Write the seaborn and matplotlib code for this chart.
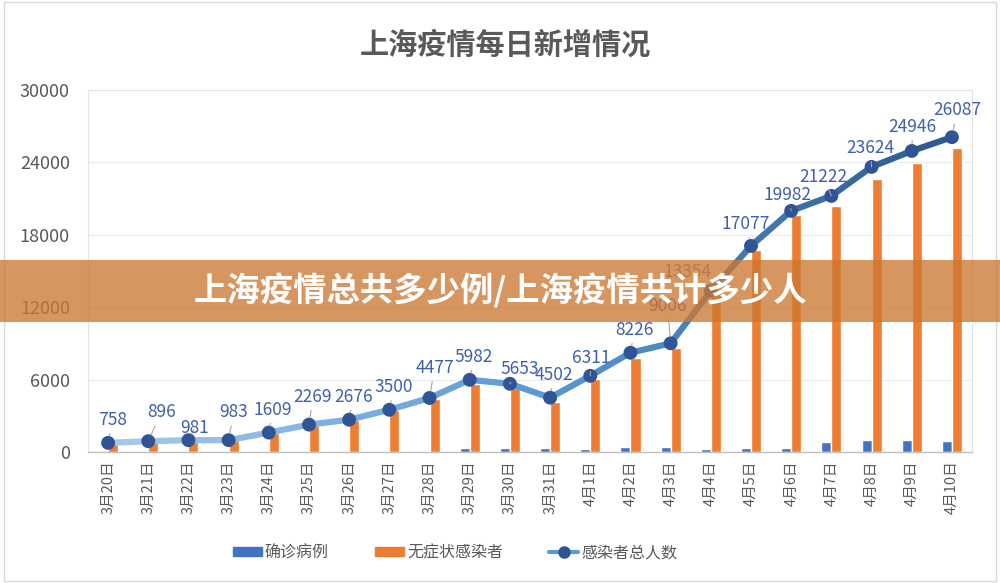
import numpy as np
import pandas as pd
import matplotlib
matplotlib.use('Agg')
import matplotlib.pyplot as plt
import seaborn as sns
from matplotlib.collections import LineCollection
from matplotlib.colors import LinearSegmentedColormap
from matplotlib.patches import Patch, Rectangle
from matplotlib.lines import Line2D

sns.set_theme(style='white')
plt.rcParams['font.family'] = ['Noto Sans CJK SC', 'DejaVu Sans']

# ---- data ----
dates = ['3月20日', '3月21日', '3月22日', '3月23日', '3月24日', '3月25日',
         '3月26日', '3月27日', '3月28日', '3月29日', '3月30日', '3月31日',
         '4月1日', '4月2日', '4月3日', '4月4日', '4月5日', '4月6日',
         '4月7日', '4月8日', '4月9日', '4月10日']
confirmed = [24, 31, 4, 4, 29, 38, 45, 50, 96, 326, 355, 358,
             260, 438, 425, 268, 311, 322, 824, 1015, 1006, 914]
asymptomatic = [734, 865, 977, 979, 1580, 2231, 2631, 3450, 4381, 5656, 5298, 4144,
                6051, 7788, 8581, 13086, 16766, 19660, 20398, 22609, 23937, 25173]
total = [758, 896, 981, 983, 1609, 2269, 2676, 3500, 4477, 5982, 5653, 4502,
         6311, 8226, 9006, 13354, 17077, 19982, 21222, 23624, 24946, 26087]
series_names = ['确诊病例', '无症状感染者', '感染者总人数']
y_ticks = [0, 6000, 12000, 18000, 24000, 30000]

BLUE = '#4472C4'
ORANGE = '#ED7D31'
DARK = '#2F5597'
LABEL = '#3F5FAF'
GRAY_TXT = '#595959'

df = pd.DataFrame({'date': dates * 2,
                   'value': confirmed + asymptomatic,
                   'type': [series_names[0]] * len(dates) + [series_names[1]] * len(dates)})

fig = plt.figure(figsize=(10, 5.83), dpi=100)
ax = fig.add_axes([0.088, 0.2247, 0.884, 0.621])

sns.barplot(data=df, x='date', y='value', hue='type', order=dates,
            hue_order=series_names[:2], palette=[BLUE, ORANGE],
            width=0.5, saturation=1, errorbar=None, ax=ax, legend=False)

# gradient line for totals
xs = np.arange(len(dates))
pts = np.column_stack([xs, total]).reshape(-1, 1, 2)
segs = np.concatenate([pts[:-1], pts[1:]], axis=1)
cmap = LinearSegmentedColormap.from_list('bl', ['#A5C8E8', '#5B9BD5', '#2E5C92'])
lc = LineCollection(segs, colors=cmap(np.linspace(0, 1, len(segs))),
                    linewidths=4.5, capstyle='round', joinstyle='round', zorder=4)
ax.add_collection(lc)
sns.scatterplot(x=xs, y=total, color=DARK, s=100, edgecolor='none', zorder=5, ax=ax)

# value labels
offsets = {i: (4, 23) for i in range(len(total))}
offsets.update({1: (13, 29), 2: (6, 12), 3: (5, 28), 5: (4, 28), 8: (5, 30),
                10: (10, 15), 12: (1, 18), 14: (-3, 37), 15: (-23, 19),
                16: (-5, 22), 17: (-4, 16), 18: (-8, 19), 19: (-1, 19), 20: (1, 24), 21: (5, 27)})
for i, v in enumerate(total):
    dx, dy = offsets[i]
    col = '#7F7F7F' if i == 15 else LABEL
    ax.annotate(f'{v}', xy=(i, v), xytext=(dx, dy), textcoords='offset pixels',
                ha='center', va='center', fontsize=12.5, color=col, zorder=6,
                arrowprops=dict(arrowstyle='-', color='#A6A6A6', lw=0.8,
                                shrinkA=1, shrinkB=5))

# axes styling
ax.set_xlim(-0.5, len(dates) - 0.5)
ax.set_ylim(0, 30000)
ax.set_yticks(y_ticks)
ax.set_yticklabels([str(t) for t in y_ticks], fontsize=13, color=GRAY_TXT)
ax.tick_params(axis='y', length=0, pad=13)
ax.set_xticks(xs)
ax.set_xticklabels(dates, rotation=90, fontsize=10.5, color=GRAY_TXT)
ax.tick_params(axis='x', which='major', length=0, pad=6)
ax.set_xticks(np.arange(-0.5, len(dates), 1), minor=True)
ax.tick_params(axis='x', which='minor', length=6, color='#BFBFBF', width=1)
ax.set_xlabel('')
ax.set_ylabel('')
ax.grid(axis='y', color='#EBEBEB', lw=0.8)
ax.set_axisbelow(True)
for s in ['top', 'right', 'left']:
    ax.spines[s].set_color('#E3E3E3')
    ax.spines[s].set_linewidth(0.8)
ax.spines['bottom'].set_color('#BFBFBF')
ax.spines['bottom'].set_linewidth(1)

fig.text(0.505, 1 - 45 / 583, '上海疫情每日新增情况', ha='center', va='center',
         fontsize=21, fontweight='bold', color=GRAY_TXT)

handles = [Patch(color=BLUE), Patch(color=ORANGE),
           Line2D([0], [0], color='#5B9BD5', lw=3, marker='o', markersize=8,
                  markerfacecolor=DARK, markeredgecolor=DARK)]
fig.legend(handles, series_names, loc='center', bbox_to_anchor=(0.455, 1 - 553 / 583),
           ncol=3, frameon=False, fontsize=11.5, handlelength=1.8, handleheight=0.5,
           columnspacing=2.9, handletextpad=0.2, labelcolor=GRAY_TXT)

# outer border
fig.patches.append(Rectangle((0.004, 0.004), 0.992, 0.992, transform=fig.transFigure,
                             fill=False, edgecolor='#D9D9D9', lw=1))

# banner overlay
fig.patches.append(Rectangle((0, 1 - 322 / 583), 1, 62 / 583, transform=fig.transFigure,
                             facecolor=(0.80, 0.47, 0.20), alpha=0.78, edgecolor='none',
                             zorder=10))
fig.text(0.5, 1 - 291 / 583, '上海疫情总共多少例/上海疫情共计多少人', ha='center',
         va='center', fontsize=24, fontweight='bold', color='white', zorder=11)

fig.savefig('out.png', dpi=100)
